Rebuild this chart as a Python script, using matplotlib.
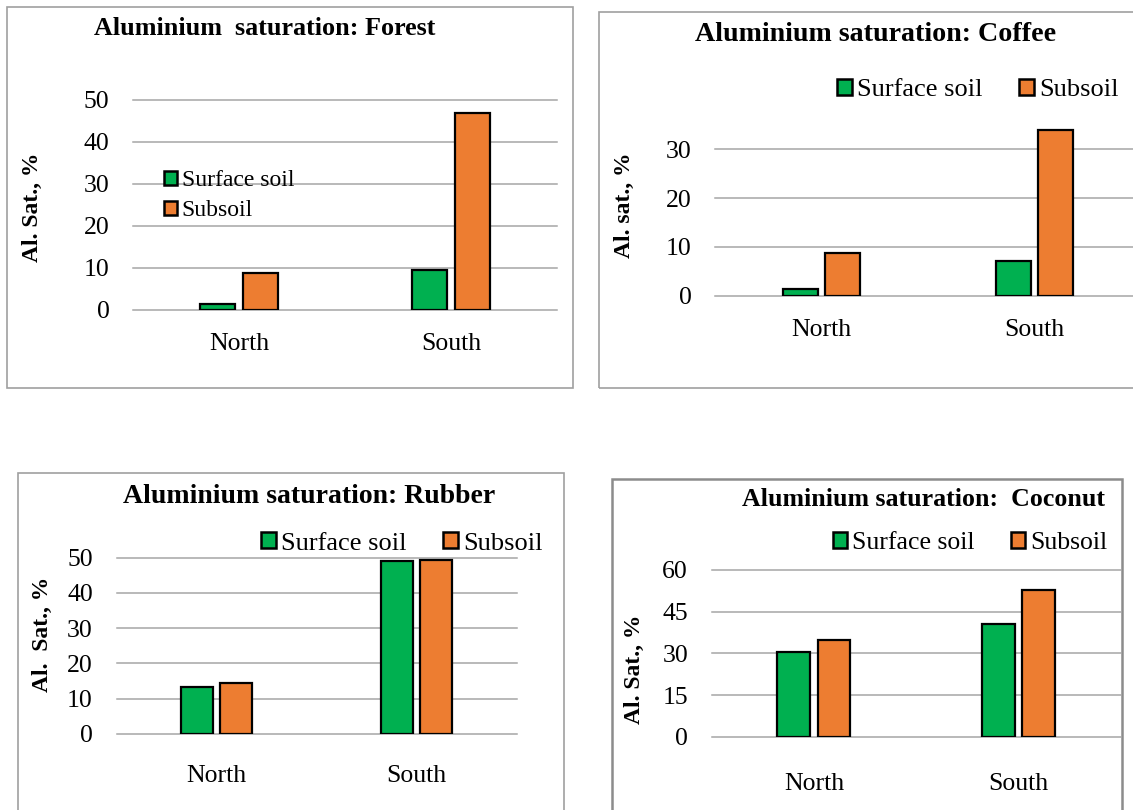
import matplotlib
matplotlib.use("Agg")
import matplotlib.pyplot as plt
from matplotlib.patches import Rectangle

plt.rcParams['font.family'] = ['Liberation Serif', 'DejaVu Serif']

# ---- data ----
categories = ["North", "South"]
series_names = ["Surface soil", "Subsoil"]

forest_surface = [1.5, 9.5]
forest_subsoil = [8.8, 46.8]
coffee_surface = [1.3, 7.1]
coffee_subsoil = [8.7, 34.0]
rubber_surface = [13.4, 49.0]
rubber_subsoil = [14.5, 49.3]
coconut_surface = [30.4, 40.6]
coconut_subsoil = [34.8, 52.8]

forest_ticks = [0, 10, 20, 30, 40, 50]
coffee_ticks = [0, 10, 20, 30]
rubber_ticks = [0, 10, 20, 30, 40, 50]
coconut_ticks = [0, 15, 30, 45, 60]

# ---- styling ----
GREEN = "#00B050"
ORANGE = "#ED7D31"
GRID = "#A6A6A6"
FRAME = "#A0A0A0"

W, H = 1133, 810
fig = plt.figure(figsize=(W / 100, H / 100), dpi=100)


def fx(x):
    return x / W


def fy(y):
    return 1 - y / H


def axes_px(l, t, r, b):
    return fig.add_axes([l / W, 1 - b / H, (r - l) / W, (b - t) / H])


def frame_px(l, t, r, b, lw=1.2, color=FRAME):
    fig.add_artist(Rectangle((l / W, 1 - b / H), (r - l) / W, (b - t) / H,
                             transform=fig.transFigure, fill=False,
                             edgecolor=color, linewidth=lw, zorder=0))


def panel(ax, surface, subsoil, ticks, ymax, width, gap,
          tick_fs, cat_fs, cat_offset):
    xs = range(len(categories))
    off = width / 2 + gap / 2
    b1 = ax.bar([x - off for x in xs], surface, width, color=GREEN,
                edgecolor="black", linewidth=1.6, label=series_names[0], zorder=3)
    b2 = ax.bar([x + off for x in xs], subsoil, width, color=ORANGE,
                edgecolor="black", linewidth=1.6, label=series_names[1], zorder=3)
    ax.set_xlim(-0.5, len(categories) - 0.5)
    ax.set_ylim(0, ymax)
    ax.set_yticks(ticks)
    ax.set_yticklabels([str(t) for t in ticks], fontsize=tick_fs)
    ax.tick_params(axis="y", length=0, pad=17)
    ax.set_xticks([])
    for s in ax.spines.values():
        s.set_visible(False)
    for t in ticks:
        ax.axhline(t, color=GRID, linewidth=1.1, zorder=1, clip_on=False)
    for i, c in enumerate(categories):
        ax.annotate(c, xy=(i, 0), xycoords=ax.get_xaxis_transform(),
                    xytext=(0, -cat_offset), textcoords="offset pixels",
                    ha="center", va="baseline", fontsize=cat_fs)
    ax.patch.set_alpha(0)
    return b1, b2


def add_legend(ax, ncol, fs, x_px, y_px, labelspacing=0.3, colspacing=1.4):
    leg = ax.legend(ncol=ncol, loc="center left",
                    bbox_to_anchor=(fx(x_px), fy(y_px)),
                    bbox_transform=fig.transFigure, frameon=False,
                    fontsize=fs, handlelength=0.55, handleheight=0.55,
                    handletextpad=0.2, borderpad=0, borderaxespad=0,
                    labelspacing=labelspacing, columnspacing=colspacing)
    for h in leg.legend_handles:
        h.set_linewidth(1.8)
    return leg


# ---- Forest ----
frame_px(7.4, 7.4, 572.7, 388.3)
ax1 = axes_px(133, 100, 557, 310)
panel(ax1, forest_surface, forest_subsoil, forest_ticks, 50,
      0.165, 0.034, 18.5, 18.5, 40)
add_legend(ax1, 1, 17, 164, 195.5, labelspacing=0.38)
fig.text(fx(265), fy(35), "Aluminium  saturation: Forest", ha="center",
         va="baseline", fontsize=18.8, fontweight="bold")
fig.text(fx(32.5), fy(207), "Al. Sat., %", rotation=90, ha="center",
         va="center", fontsize=17, fontweight="bold")

# ---- Coffee ----
frame_px(599, 11.7, 1145, 388.3)
ax2 = axes_px(715, 295.7 - 35 * 4.88, 1141, 295.7)
panel(ax2, coffee_surface, coffee_subsoil, coffee_ticks, 35,
      0.164, 0.033, 18.5, 18.5, 40)
add_legend(ax2, 2, 19, 837, 90, colspacing=1.4)
fig.text(fx(875.5), fy(40.7), "Aluminium saturation: Coffee", ha="center",
         va="baseline", fontsize=20.2, fontweight="bold")
fig.text(fx(624), fy(205), "Al. sat., %", rotation=90, ha="center",
         va="center", fontsize=17, fontweight="bold")

# ---- Rubber ----
frame_px(17.8, 472.7, 564, 830)
ax3 = axes_px(116.5, 557.7, 516.5, 734)
panel(ax3, rubber_surface, rubber_subsoil, rubber_ticks, 50,
      0.16, 0.0375, 18.5, 18.5, 48)
add_legend(ax3, 2, 19, 261, 543.5, colspacing=1.4)
fig.text(fx(309), fy(502.7), "Aluminium saturation: Rubber", ha="center",
         va="baseline", fontsize=20, fontweight="bold")
fig.text(fx(42.5), fy(634), "Al.  Sat., %", rotation=90, ha="center",
         va="center", fontsize=17, fontweight="bold")

# ---- Coconut ----
frame_px(611.5, 479, 1121.7, 830, lw=1.8, color="#8C8C8C")
ax4 = axes_px(711.7, 570, 1120.5, 736.7)
panel(ax4, coconut_surface, coconut_subsoil, coconut_ticks, 60,
      0.16, 0.037, 18.5, 18.5, 53)
add_legend(ax4, 2, 18.5, 833, 543, colspacing=1.4)
fig.text(fx(923), fy(506), "Aluminium saturation:  Coconut", ha="center",
         va="baseline", fontsize=18.6, fontweight="bold")
fig.text(fx(634.5), fy(669), "Al. Sat., %", rotation=90, ha="center",
         va="center", fontsize=17, fontweight="bold")

fig.savefig("out.png", dpi=100)
